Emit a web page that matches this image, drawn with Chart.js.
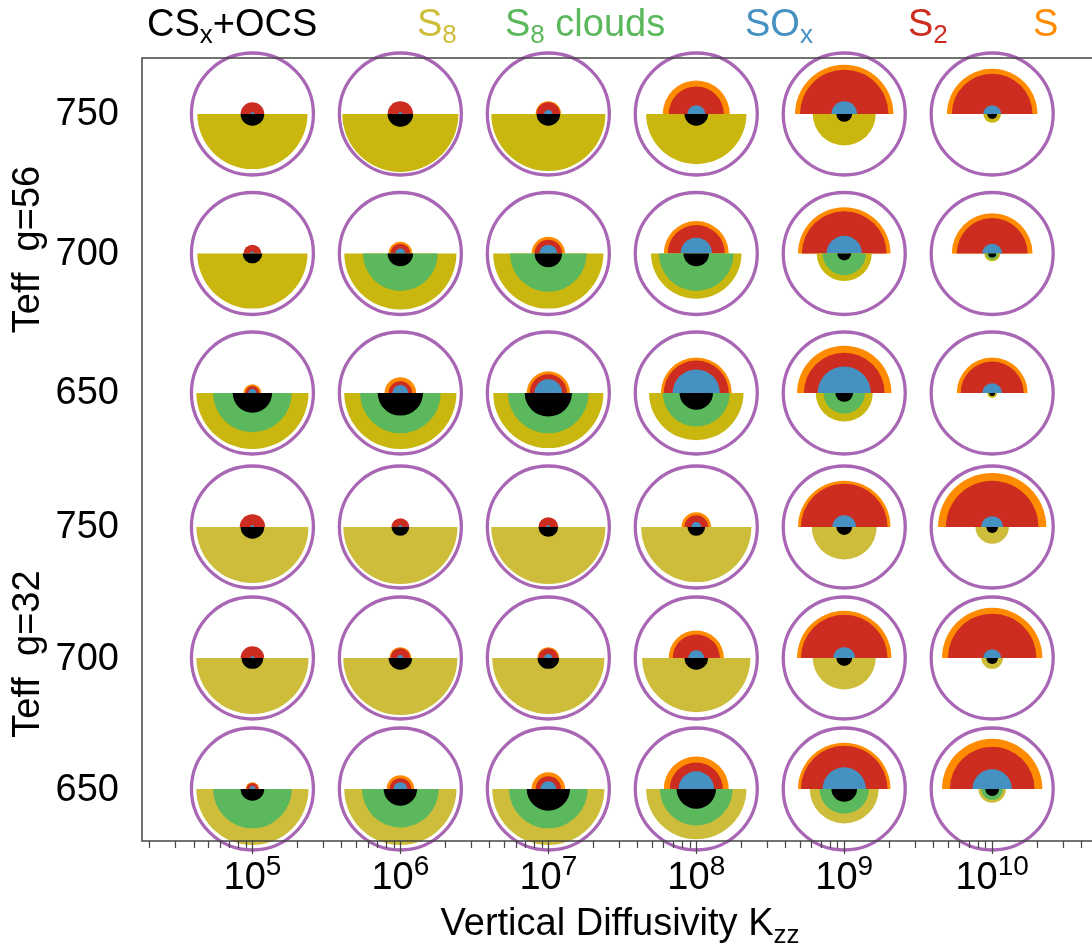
<!DOCTYPE html>
<html>
<head>
<meta charset="utf-8">
<script src="https://cdn.jsdelivr.net/npm/chart.js@4.4.1/dist/chart.umd.min.js"></script>
<style>
  html, body { margin: 0; padding: 0; background: #fff; overflow: hidden; }
</style>
</head>
<body>
<canvas id="myChart" width="1092" height="945"></canvas>
<script>
// grid: columns = Kzz, rows = Teff for each gravity
const kzz = [1e5, 1e6, 1e7, 1e8, 1e9, 1e10];
const kzzExp = ["5", "6", "7", "8", "9", "10"];
const teff = [750, 700, 650];
const gravity = [56, 32];

// half-disc sizes per cell (rows: g56 750/700/650, g32 750/700/650; 62 = outer ring)
const rS = [
  [0, 0, 13, 34, 50, 46],
  [0, 12, 17, 33, 47, 41],
  [9, 16, 22, 36, 48, 36],
  [0, 0, 0, 15, 47, 55],
  [0, 11, 11, 28, 48, 51],
  [7, 14, 17, 33, 47, 51]
];
const rS2 = [
  [12, 13, 12, 28, 45, 41],
  [9, 10, 14, 29, 43, 36],
  [7, 12, 19, 33, 41, 32],
  [13, 9, 10, 12, 44, 47],
  [12, 10, 10, 24, 44, 45],
  [6, 11, 13, 27, 44, 43]
];
const rSOx = [
  [2, 2, 4, 9, 13, 9],
  [2, 5, 9, 16, 18, 10],
  [4, 8, 14, 24, 27, 10],
  [2, 2, 2, 5, 12, 11],
  [2, 3, 4, 8, 11, 9],
  [3, 7, 8, 18, 22, 20]
];
const rCS = [
  [12, 13, 12, 12, 8, 5],
  [10, 13, 14, 13, 7, 4],
  [20, 23, 24, 17, 9, 3],
  [12, 9, 10, 9, 8, 6],
  [11, 12, 11, 12, 8, 6],
  [12, 17, 22, 20, 13, 7]
];
const rS8 = [
  [56, 59, 58, 51, 32, 9],
  [56, 57, 56, 46, 28, 8],
  [57, 57, 56, 48, 29, 5],
  [57, 58, 58, 56, 33, 17],
  [57, 58, 57, 55, 32, 11],
  [57, 57, 57, 51, 35, 14]
];
const rClouds = [
  [0, 0, 0, 0, 0, 0],
  [0, 38, 39, 38, 22, 6],
  [40, 41, 41, 34, 21, 0],
  [0, 0, 0, 0, 0, 0],
  [0, 0, 0, 0, 0, 0],
  [40, 39, 40, 37, 25, 11]
];

const FONT = '"Liberation Sans", Arial, Helvetica, sans-serif';
const colS = "#ff8c00";
const colS2 = "#cd2c20";
const colSOx = "#4591c2";
const colClouds = "#5bb85c";
const colCS = "#000000";
const colS8 = ["#c9b60e", "#cdbd3a"];
const ringColor = "#a866b4";
const RING = 61;

function cellPoints() {
  let pts = [];
  teff.forEach(t => kzz.forEach(k => pts.push({x: k, y: t})));
  return pts;
}

function half(ctx, x, y, r, color, up) {
  if (r <= 0) return;
  ctx.beginPath();
  ctx.moveTo(x - r, y);
  if (up) ctx.arc(x, y, r, Math.PI, 2 * Math.PI);
  else ctx.arc(x, y, r, 0, Math.PI);
  ctx.closePath();
  ctx.fillStyle = color;
  ctx.fill();
}

const cellPlugin = {
  id: "cells",
  beforeDatasetsDraw(chart) {
    const ctx = chart.ctx;
    const k = RING / 62;
    ctx.save();
    chart.data.datasets.forEach((ds, di) => {
      const meta = chart.getDatasetMeta(di);
      meta.data.forEach((pt, i) => {
        const row = di * 3 + Math.floor(i / 6), col = i % 6;
        const upper = [[rS[row][col], colS], [rS2[row][col], colS2], [rSOx[row][col], colSOx]];
        const lower = [[rS8[row][col], colS8[di]], [rClouds[row][col], colClouds], [rCS[row][col], colCS]];
        upper.sort((a, b) => b[0] - a[0]).forEach(([r, c]) => half(ctx, pt.x, pt.y, r * k, c, true));
        lower.sort((a, b) => b[0] - a[0]).forEach(([r, c]) => half(ctx, pt.x, pt.y, r * k, c, false));
      });
    });
    ctx.restore();
  }
};

function textWithSub(ctx, x, y, main, sub, size, color, subSize, drop) {
  ctx.fillStyle = color;
  ctx.textAlign = "left";
  ctx.textBaseline = "alphabetic";
  ctx.font = size + "px " + FONT;
  ctx.fillText(main, x, y);
  let w = ctx.measureText(main).width;
  if (sub) {
    ctx.font = subSize + "px " + FONT;
    ctx.fillText(sub, x + w, y + drop);
    w += ctx.measureText(sub).width;
  }
  return w;
}

const axesPlugin = {
  id: "axes",
  afterDraw(chart) {
    const ctx = chart.ctx;
    const a = chart.chartArea;
    const xs = chart.scales.x;
    ctx.save();
    // frame
    ctx.strokeStyle = "#444";
    ctx.lineWidth = 1.5;
    ctx.beginPath();
    ctx.moveTo(chart.width, a.top); ctx.lineTo(a.left, a.top);
    ctx.lineTo(a.left, a.bottom); ctx.lineTo(chart.width, a.bottom);
    ctx.stroke();

    // log ticks
    ctx.lineWidth = 1.2;
    for (let e = 4; e <= 10; e++) {
      for (let m = 1; m <= 9; m++) {
        const v = m * Math.pow(10, e);
        if (v < xs.min || v > xs.max) continue;
        const px = Math.round(xs.getPixelForValue(v)) + 0.5;
        ctx.beginPath();
        ctx.moveTo(px, a.bottom);
        ctx.lineTo(px, a.bottom + (m === 1 ? 13 : 7));
        ctx.stroke();
      }
    }

    // x tick labels 10^n
    kzz.forEach((k, i) => {
      const px = xs.getPixelForValue(k);
      ctx.font = "38px " + FONT;
      const wb = ctx.measureText("10").width;
      ctx.font = "28px " + FONT;
      const we = ctx.measureText(kzzExp[i]).width;
      const x0 = px - (wb + we) / 2;
      ctx.fillStyle = "#000";
      ctx.textAlign = "left";
      ctx.textBaseline = "alphabetic";
      ctx.font = "38px " + FONT;
      ctx.fillText("10", x0, 889);
      ctx.font = "28px " + FONT;
      ctx.fillText(kzzExp[i], x0 + wb, 875);
    });

    // x title
    ctx.font = "38px " + FONT;
    const tw = ctx.measureText("Vertical Diffusivity K").width;
    ctx.font = "26px " + FONT;
    const sw = ctx.measureText("zz").width;
    textWithSub(ctx, 620 - (tw + sw) / 2, 935, "Vertical Diffusivity K", "zz", 38, "#000", 26, 8);

    // y tick labels + titles per gravity group
    gravity.forEach((g, gi) => {
      const ys = chart.scales[gi === 0 ? "y56" : "y32"];
      ctx.font = "38px " + FONT;
      ctx.fillStyle = "#000";
      ctx.textAlign = "right";
      ctx.textBaseline = "middle";
      teff.forEach(t => ctx.fillText(String(t), 119, ys.getPixelForValue(t) + 1));
      const yc = ys.getPixelForValue(teff[1]) - 4;
      ctx.save();
      ctx.translate(39, yc);
      ctx.rotate(-Math.PI / 2);
      ctx.textAlign = "center";
      ctx.textBaseline = "alphabetic";
      ctx.fillText("Teff  g=" + g, 0, 0);
      ctx.restore();
    });

    // species key along the top
    const kf = 38, sf = 26, kb = 36, dr = 7;
    const wcs = textWithSub(ctx, 147, kb, "CS", "x", kf, "#000", sf, dr);
    textWithSub(ctx, 147 + wcs, kb, "+OCS", "", kf, "#000", sf, dr);
    textWithSub(ctx, 417, kb, "S", "8", kf, colS8[1], sf, dr);
    const w8 = textWithSub(ctx, 505, kb, "S", "8", kf, colClouds, sf, dr);
    textWithSub(ctx, 505 + w8, kb, " clouds", "", kf, colClouds, sf, dr);
    textWithSub(ctx, 745, kb, "SO", "x", kf, colSOx, sf, dr);
    textWithSub(ctx, 908, kb, "S", "2", kf, colS2, sf, dr);
    textWithSub(ctx, 1033, kb, "S", "", kf, colS, sf, dr);
    ctx.restore();
  }
};

const ringStyle = {
  pointRadius: RING,
  pointHoverRadius: RING,
  pointBorderWidth: 3.3,
  pointBorderColor: ringColor,
  pointBackgroundColor: "rgba(0,0,0,0)",
  showLine: false,
  clip: false
};

let ctx = document.getElementById("myChart").getContext("2d");

let myChart = new Chart(ctx, {
  type: "scatter",
  data: {
    datasets: [
      Object.assign({label: "g=56", data: cellPoints(), yAxisID: "y56"}, ringStyle),
      Object.assign({label: "g=32", data: cellPoints(), yAxisID: "y32"}, ringStyle)
    ]
  },
  options: {
    responsive: false,
    animation: false,
    devicePixelRatio: 1,
    layout: { autoPadding: false, padding: { left: 142, top: 58, right: 0, bottom: 104 } },
    plugins: {
      legend: { display: false },
      tooltip: { enabled: false }
    },
    events: [],
    scales: {
      x: { type: "logarithmic", display: false, min: Math.pow(10, 4.2537), max: Math.pow(10, 10.6746) },
      y56: { type: "linear", display: false, min: 489.42, max: 770.07 },
      y32: { type: "linear", display: false, min: 630.16, max: 929.01 }
    }
  },
  plugins: [cellPlugin, axesPlugin]
});
</script>
</body>
</html>
